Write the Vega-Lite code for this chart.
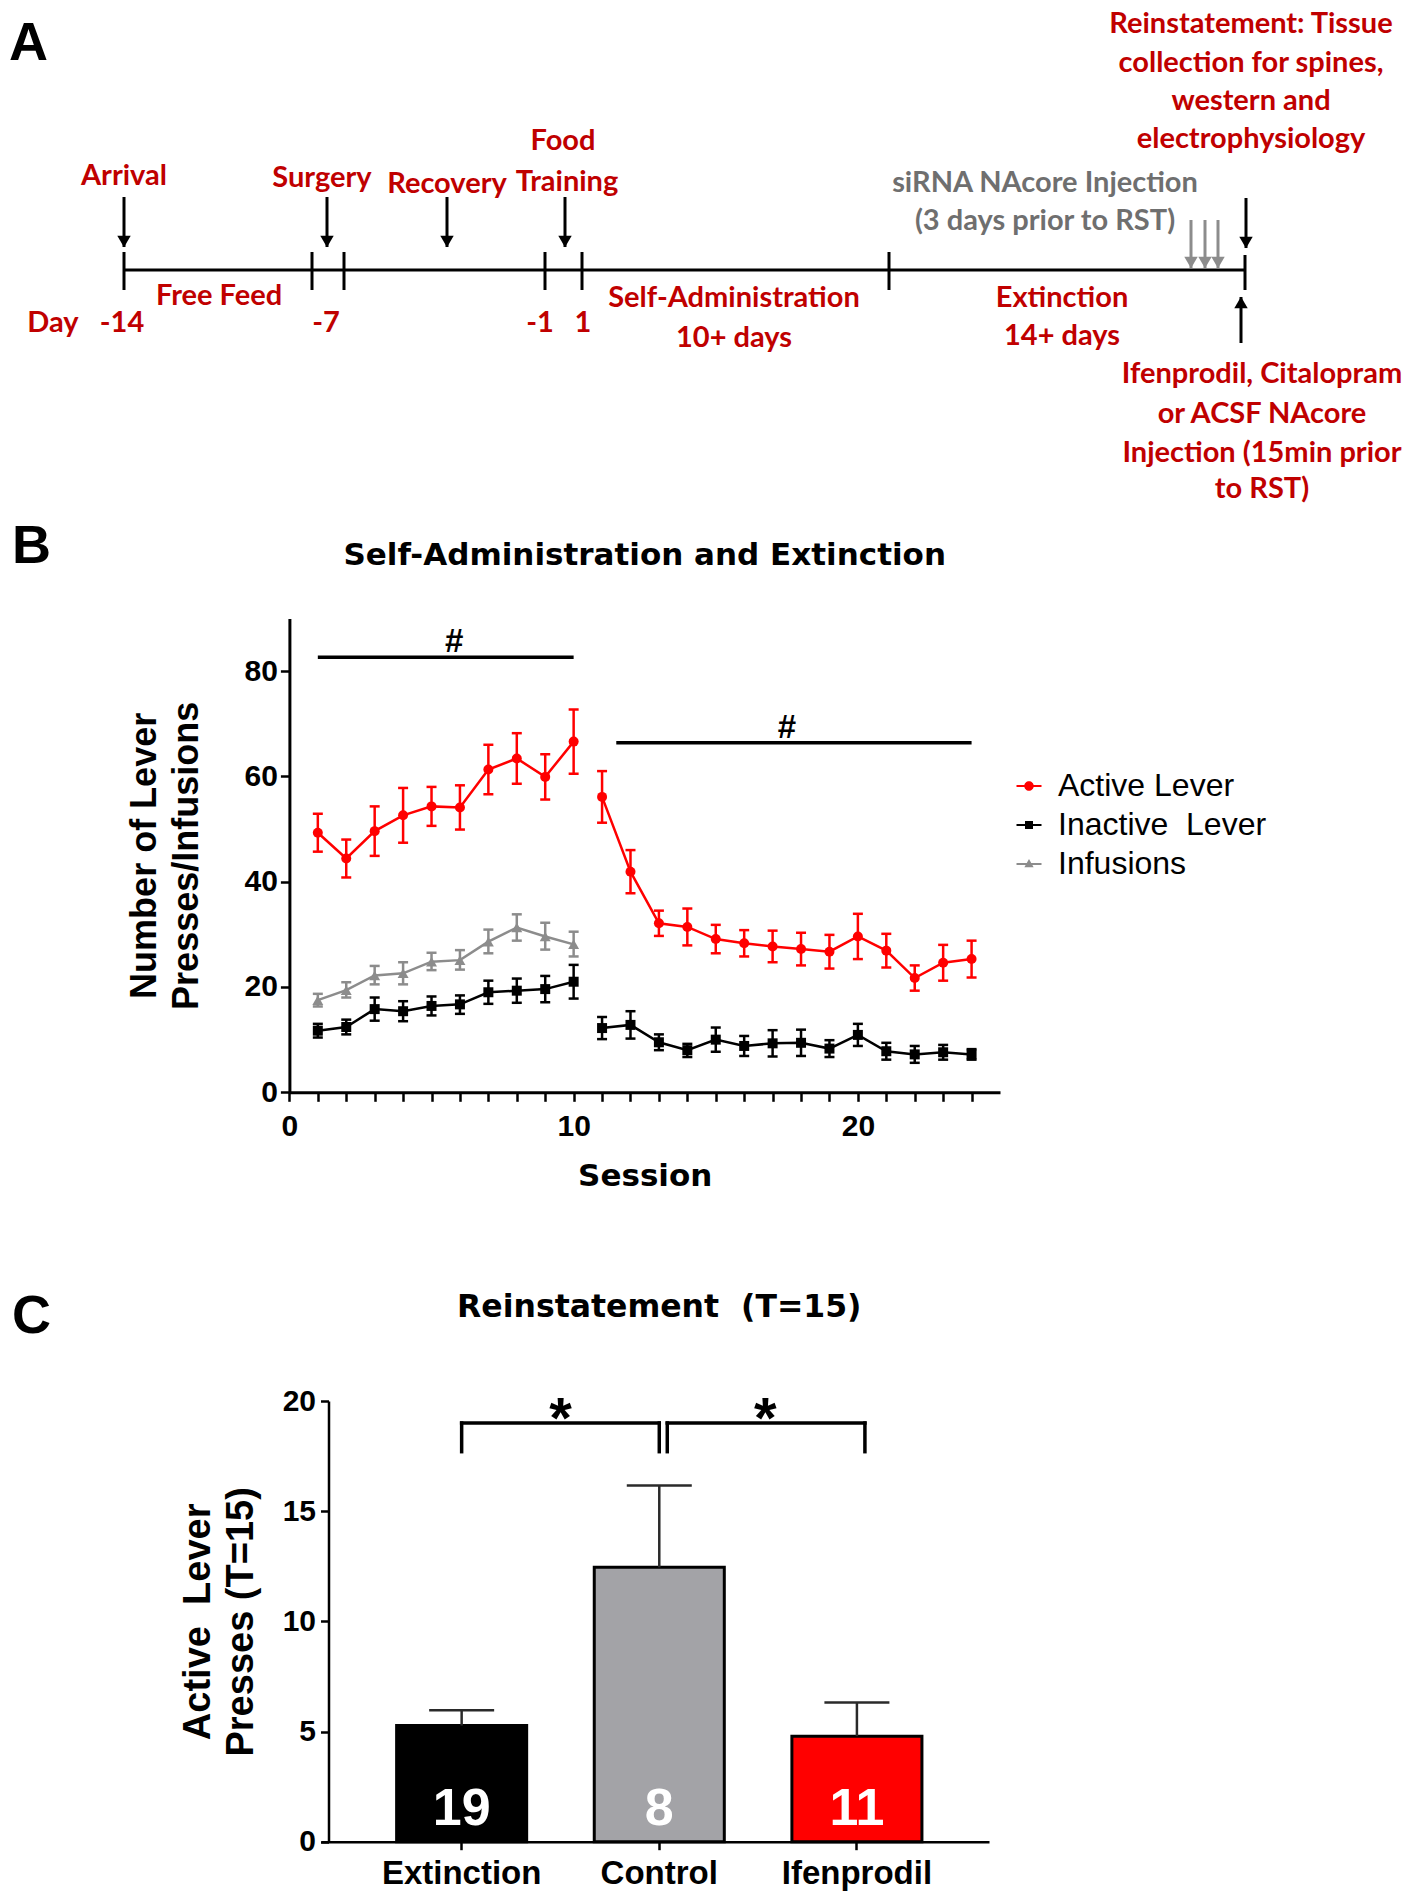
{
  "$schema": "https://vega.github.io/schema/vega-lite/v6.json",
  "width": 1422,
  "height": 1891,
  "autosize": {"type": "none"},
  "padding": 0,
  "background": "white",
  "config": {
    "view": {"stroke": null},
    "axis": {"grid": false, "domainColor": "black", "tickColor": "black", "labelColor": "black", "titleColor": "black", "labelFlush": false, "labelOverlap": false, "labelFont": "Liberation Sans", "titleFont": "Liberation Sans"}
  },
  "datasets": {
    "a_timeline": [{"start": 12.4, "end": 124.5, "level": 27.0}],
    "a_ticks": [
      {"pos": 12.4, "top": 25.2, "bottom": 29.0},
      {"pos": 31.2, "top": 25.2, "bottom": 29.0},
      {"pos": 34.4, "top": 25.2, "bottom": 29.0},
      {"pos": 54.5, "top": 25.2, "bottom": 29.0},
      {"pos": 58.2, "top": 25.2, "bottom": 29.0},
      {"pos": 88.9, "top": 25.2, "bottom": 29.0},
      {"pos": 124.5, "top": 25.5, "bottom": 29.0}
    ],
    "a_arrows": [
      {"pos": 12.4, "tail": 19.7, "head": 24.7, "dir": "down", "kind": "black"},
      {"pos": 32.7, "tail": 19.7, "head": 24.7, "dir": "down", "kind": "black"},
      {"pos": 44.7, "tail": 19.7, "head": 24.7, "dir": "down", "kind": "black"},
      {"pos": 56.5, "tail": 19.7, "head": 24.7, "dir": "down", "kind": "black"},
      {"pos": 124.6, "tail": 19.8, "head": 24.8, "dir": "down", "kind": "black"},
      {"pos": 124.1, "tail": 34.3, "head": 29.7, "dir": "up", "kind": "black"},
      {"pos": 119.1, "tail": 22.0, "head": 26.8, "dir": "down", "kind": "gray"},
      {"pos": 120.5, "tail": 22.0, "head": 26.8, "dir": "down", "kind": "gray"},
      {"pos": 121.8, "tail": 22.0, "head": 26.8, "dir": "down", "kind": "gray"}
    ],
    "a_text": [
      {"label": "A", "pos": 0.9, "level": 6.0, "kind": "letter"},
      {"label": "B", "pos": 1.2, "level": 56.3, "kind": "letter"},
      {"label": "C", "pos": 1.2, "level": 133.3, "kind": "letter"},
      {"label": "Arrival", "pos": 12.4, "level": 18.5, "kind": "red"},
      {"label": "Surgery", "pos": 32.2, "level": 18.7, "kind": "red"},
      {"label": "Recovery", "pos": 44.7, "level": 19.3, "kind": "red"},
      {"label": "Food", "pos": 56.3, "level": 15.0, "kind": "red"},
      {"label": "Training", "pos": 56.7, "level": 19.1, "kind": "red"},
      {"label": "Free Feed", "pos": 21.9, "level": 30.5, "kind": "red"},
      {"label": "Day", "pos": 5.3, "level": 33.2, "kind": "red"},
      {"label": "-14", "pos": 12.2, "level": 33.2, "kind": "red"},
      {"label": "-7", "pos": 32.6, "level": 33.2, "kind": "red"},
      {"label": "-1", "pos": 54.0, "level": 33.2, "kind": "red"},
      {"label": "1", "pos": 58.3, "level": 33.2, "kind": "red"},
      {"label": "Self-Administration", "pos": 73.4, "level": 30.7, "kind": "red"},
      {"label": "10+ days", "pos": 73.4, "level": 34.7, "kind": "red"},
      {"label": "Extinction", "pos": 106.2, "level": 30.7, "kind": "red"},
      {"label": "14+ days", "pos": 106.2, "level": 34.5, "kind": "red"},
      {"label": "Reinstatement: Tissue", "pos": 125.1, "level": 3.3, "kind": "red"},
      {"label": "collection for spines,", "pos": 125.1, "level": 7.2, "kind": "red"},
      {"label": "western and", "pos": 125.1, "level": 11.0, "kind": "red"},
      {"label": "electrophysiology", "pos": 125.1, "level": 14.8, "kind": "red"},
      {"label": "Ifenprodil, Citalopram", "pos": 126.2, "level": 38.3, "kind": "red"},
      {"label": "or ACSF NAcore", "pos": 126.2, "level": 42.3, "kind": "red"},
      {"label": "Injection (15min prior", "pos": 126.2, "level": 46.2, "kind": "red"},
      {"label": "to RST)", "pos": 126.2, "level": 49.8, "kind": "red"},
      {"label": "siRNA NAcore Injection", "pos": 104.5, "level": 19.2, "kind": "gray"},
      {"label": "(3 days prior to RST)", "pos": 104.5, "level": 23.0, "kind": "gray"}
    ],
    "b_sig": [
      {"start": 1, "end": 10, "level": 82.6, "label_x": 5.8, "mark": "#"},
      {"start": 11.5, "end": 24, "level": 66.4, "label_x": 17.5, "mark": "#"}
    ],
    "b_series": [
      {"series": "Active Lever", "session": 1, "phase": "SA", "mean": 49.3, "lo": 45.7, "hi": 52.9},
      {"series": "Active Lever", "session": 2, "phase": "SA", "mean": 44.4, "lo": 40.8, "hi": 48.0},
      {"series": "Active Lever", "session": 3, "phase": "SA", "mean": 49.6, "lo": 44.9, "hi": 54.3},
      {"series": "Active Lever", "session": 4, "phase": "SA", "mean": 52.6, "lo": 47.4, "hi": 57.8},
      {"series": "Active Lever", "session": 5, "phase": "SA", "mean": 54.3, "lo": 50.6, "hi": 58.0},
      {"series": "Active Lever", "session": 6, "phase": "SA", "mean": 54.1, "lo": 49.9, "hi": 58.3},
      {"series": "Active Lever", "session": 7, "phase": "SA", "mean": 61.3, "lo": 56.6, "hi": 66.0},
      {"series": "Active Lever", "session": 8, "phase": "SA", "mean": 63.4, "lo": 58.6, "hi": 68.2},
      {"series": "Active Lever", "session": 9, "phase": "SA", "mean": 59.9, "lo": 55.6, "hi": 64.2},
      {"series": "Active Lever", "session": 10, "phase": "SA", "mean": 66.6, "lo": 60.5, "hi": 72.7},
      {"series": "Active Lever", "session": 11, "phase": "EXT", "mean": 56.1, "lo": 51.2, "hi": 61.0},
      {"series": "Active Lever", "session": 12, "phase": "EXT", "mean": 41.9, "lo": 37.8, "hi": 46.0},
      {"series": "Active Lever", "session": 13, "phase": "EXT", "mean": 32.1, "lo": 29.7, "hi": 34.5},
      {"series": "Active Lever", "session": 14, "phase": "EXT", "mean": 31.4, "lo": 27.9, "hi": 34.9},
      {"series": "Active Lever", "session": 15, "phase": "EXT", "mean": 29.1, "lo": 26.4, "hi": 31.8},
      {"series": "Active Lever", "session": 16, "phase": "EXT", "mean": 28.3, "lo": 25.8, "hi": 30.8},
      {"series": "Active Lever", "session": 17, "phase": "EXT", "mean": 27.7, "lo": 24.7, "hi": 30.7},
      {"series": "Active Lever", "session": 18, "phase": "EXT", "mean": 27.2, "lo": 24.1, "hi": 30.3},
      {"series": "Active Lever", "session": 19, "phase": "EXT", "mean": 26.7, "lo": 23.5, "hi": 29.9},
      {"series": "Active Lever", "session": 20, "phase": "EXT", "mean": 29.6, "lo": 25.3, "hi": 33.9},
      {"series": "Active Lever", "session": 21, "phase": "EXT", "mean": 26.9, "lo": 23.7, "hi": 30.1},
      {"series": "Active Lever", "session": 22, "phase": "EXT", "mean": 21.7, "lo": 19.3, "hi": 24.1},
      {"series": "Active Lever", "session": 23, "phase": "EXT", "mean": 24.6, "lo": 21.2, "hi": 28.0},
      {"series": "Active Lever", "session": 24, "phase": "EXT", "mean": 25.3, "lo": 21.8, "hi": 28.8},
      {"series": "Inactive\u00a0 Lever", "session": 1, "phase": "SA", "mean": 11.7, "lo": 10.4, "hi": 13.0},
      {"series": "Inactive\u00a0 Lever", "session": 2, "phase": "SA", "mean": 12.4, "lo": 11.0, "hi": 13.8},
      {"series": "Inactive\u00a0 Lever", "session": 3, "phase": "SA", "mean": 15.8, "lo": 13.6, "hi": 18.0},
      {"series": "Inactive\u00a0 Lever", "session": 4, "phase": "SA", "mean": 15.4, "lo": 13.5, "hi": 17.3},
      {"series": "Inactive\u00a0 Lever", "session": 5, "phase": "SA", "mean": 16.4, "lo": 14.6, "hi": 18.2},
      {"series": "Inactive\u00a0 Lever", "session": 6, "phase": "SA", "mean": 16.7, "lo": 14.9, "hi": 18.4},
      {"series": "Inactive\u00a0 Lever", "session": 7, "phase": "SA", "mean": 19.0, "lo": 16.8, "hi": 21.2},
      {"series": "Inactive\u00a0 Lever", "session": 8, "phase": "SA", "mean": 19.3, "lo": 17.0, "hi": 21.6},
      {"series": "Inactive\u00a0 Lever", "session": 9, "phase": "SA", "mean": 19.6, "lo": 17.1, "hi": 22.1},
      {"series": "Inactive\u00a0 Lever", "session": 10, "phase": "SA", "mean": 21.0, "lo": 17.8, "hi": 24.2},
      {"series": "Inactive\u00a0 Lever", "session": 11, "phase": "EXT", "mean": 12.2, "lo": 10.1, "hi": 14.3},
      {"series": "Inactive\u00a0 Lever", "session": 12, "phase": "EXT", "mean": 12.8, "lo": 10.2, "hi": 15.4},
      {"series": "Inactive\u00a0 Lever", "session": 13, "phase": "EXT", "mean": 9.5, "lo": 8.0, "hi": 11.0},
      {"series": "Inactive\u00a0 Lever", "session": 14, "phase": "EXT", "mean": 8.0, "lo": 6.7, "hi": 9.2},
      {"series": "Inactive\u00a0 Lever", "session": 15, "phase": "EXT", "mean": 10.0, "lo": 7.7, "hi": 12.3},
      {"series": "Inactive\u00a0 Lever", "session": 16, "phase": "EXT", "mean": 8.8, "lo": 6.9, "hi": 10.7},
      {"series": "Inactive\u00a0 Lever", "session": 17, "phase": "EXT", "mean": 9.3, "lo": 6.8, "hi": 11.8},
      {"series": "Inactive\u00a0 Lever", "session": 18, "phase": "EXT", "mean": 9.4, "lo": 6.9, "hi": 11.9},
      {"series": "Inactive\u00a0 Lever", "session": 19, "phase": "EXT", "mean": 8.3, "lo": 6.7, "hi": 9.9},
      {"series": "Inactive\u00a0 Lever", "session": 20, "phase": "EXT", "mean": 10.9, "lo": 8.8, "hi": 13.0},
      {"series": "Inactive\u00a0 Lever", "session": 21, "phase": "EXT", "mean": 7.8, "lo": 6.2, "hi": 9.4},
      {"series": "Inactive\u00a0 Lever", "session": 22, "phase": "EXT", "mean": 7.2, "lo": 5.6, "hi": 8.8},
      {"series": "Inactive\u00a0 Lever", "session": 23, "phase": "EXT", "mean": 7.6, "lo": 6.2, "hi": 9.0},
      {"series": "Inactive\u00a0 Lever", "session": 24, "phase": "EXT", "mean": 7.2, "lo": 6.2, "hi": 8.2},
      {"series": "Infusions", "session": 1, "phase": "SA", "mean": 17.5, "lo": 16.3, "hi": 18.7},
      {"series": "Infusions", "session": 2, "phase": "SA", "mean": 19.4, "lo": 18.0, "hi": 20.9},
      {"series": "Infusions", "session": 3, "phase": "SA", "mean": 22.2, "lo": 20.5, "hi": 24.0},
      {"series": "Infusions", "session": 4, "phase": "SA", "mean": 22.6, "lo": 20.5, "hi": 24.7},
      {"series": "Infusions", "session": 5, "phase": "SA", "mean": 24.8, "lo": 23.2, "hi": 26.5},
      {"series": "Infusions", "session": 6, "phase": "SA", "mean": 25.1, "lo": 23.3, "hi": 27.0},
      {"series": "Infusions", "session": 7, "phase": "SA", "mean": 28.6, "lo": 26.4, "hi": 30.9},
      {"series": "Infusions", "session": 8, "phase": "SA", "mean": 31.3, "lo": 28.8, "hi": 33.8},
      {"series": "Infusions", "session": 9, "phase": "SA", "mean": 29.6, "lo": 27.1, "hi": 32.2},
      {"series": "Infusions", "session": 10, "phase": "SA", "mean": 28.1, "lo": 25.8, "hi": 30.5}
    ],
    "c_bars": [
      {"group": "Extinction", "mean": 5.27, "upper": 5.97, "n": "19"},
      {"group": "Control", "mean": 12.45, "upper": 16.17, "n": "8"},
      {"group": "Ifenprodil", "mean": 4.79, "upper": 6.32, "n": "11"}
    ],
    "c_brackets": [
      {"pair": "L", "a": "Extinction", "b": "Control", "star": "*"},
      {"pair": "R", "a": "Control", "b": "Ifenprodil", "star": "*"}
    ]
  },
  "layer": [
    {
      "layer": [
        {
          "data": {"name": "a_timeline"},
          "mark": {"type": "rule", "strokeWidth": 3, "color": "black"},
          "encoding": {
            "x": {"field": "start", "type": "quantitative", "scale": {"domain": [0, 142.2], "range": [0, 1422], "nice": false, "zero": false}, "axis": null},
            "x2": {"field": "end"},
            "y": {"field": "level", "type": "quantitative", "scale": {"domain": [0, 189.1], "range": [0, 1891], "nice": false, "zero": false}, "axis": null}
          }
        },
        {
          "data": {"name": "a_ticks"},
          "mark": {"type": "rule", "strokeWidth": 3, "color": "black"},
          "encoding": {
            "x": {"field": "pos", "type": "quantitative"},
            "y": {"field": "top", "type": "quantitative"},
            "y2": {"field": "bottom"}
          }
        },
        {
          "data": {"name": "a_arrows"},
          "mark": {"type": "rule", "strokeWidth": 3},
          "encoding": {
            "x": {"field": "pos", "type": "quantitative"},
            "y": {"field": "tail", "type": "quantitative"},
            "y2": {"field": "head"},
            "color": {"field": "kind", "type": "nominal", "scale": {"domain": ["black", "gray"], "range": ["#000000", "#8c8c8c"]}, "legend": null}
          }
        },
        {
          "data": {"name": "a_arrows"},
          "transform": [{"filter": "datum.dir === 'down'"}],
          "mark": {"type": "point", "shape": "triangle-down", "filled": true, "opacity": 1, "yOffset": -5.5, "size": 180},
          "encoding": {
            "x": {"field": "pos", "type": "quantitative"},
            "y": {"field": "head", "type": "quantitative"},
            "color": {"field": "kind", "type": "nominal", "legend": null}
          }
        },
        {
          "data": {"name": "a_arrows"},
          "transform": [{"filter": "datum.dir === 'up'"}],
          "mark": {"type": "point", "shape": "triangle-up", "filled": true, "opacity": 1, "yOffset": 5.5, "size": 180, "color": "black"},
          "encoding": {
            "x": {"field": "pos", "type": "quantitative"},
            "y": {"field": "head", "type": "quantitative"}
          }
        },
        {
          "data": {"name": "a_text"},
          "transform": [{"filter": "datum.kind === 'red'"}],
          "mark": {"type": "text", "font": "Lato", "fontWeight": "bold", "fontSize": 29, "color": "#c00000", "align": "center", "baseline": "alphabetic"},
          "encoding": {
            "x": {"field": "pos", "type": "quantitative"},
            "y": {"field": "level", "type": "quantitative"},
            "text": {"field": "label"}
          }
        },
        {
          "data": {"name": "a_text"},
          "transform": [{"filter": "datum.kind === 'gray'"}],
          "mark": {"type": "text", "font": "Lato", "fontWeight": "bold", "fontSize": 29, "color": "#6f6f6f", "align": "center", "baseline": "alphabetic"},
          "encoding": {
            "x": {"field": "pos", "type": "quantitative"},
            "y": {"field": "level", "type": "quantitative"},
            "text": {"field": "label"}
          }
        },
        {
          "data": {"name": "a_text"},
          "transform": [{"filter": "datum.kind === 'letter'"}],
          "mark": {"type": "text", "font": "Liberation Sans", "fontWeight": "bold", "fontSize": 54, "color": "black", "align": "left", "baseline": "alphabetic"},
          "encoding": {
            "x": {"field": "pos", "type": "quantitative"},
            "y": {"field": "level", "type": "quantitative"},
            "text": {"field": "label"}
          }
        }
      ]
    },
    {
      "layer": [
        {
          "data": {"name": "b_sig"},
          "mark": {"type": "rule", "strokeWidth": 3.5, "color": "black"},
          "encoding": {
            "x": {
              "field": "start", "type": "quantitative",
              "scale": {"domain": [0, 25], "range": [289.4, 1000], "nice": false, "zero": false},
              "axis": {"orient": "bottom", "offset": -798.7, "values": [0,1,2,3,4,5,6,7,8,9,10,11,12,13,14,15,16,17,18,19,20,21,22,23,24], "format": "d", "labelExpr": "datum.value % 10 === 0 ? datum.label : ''", "tickSize": 9, "tickWidth": 2.5, "domainWidth": 3, "labelFontSize": 30, "labelFontWeight": "bold", "labelPadding": 10, "title": "Session", "titleFont": "DejaVu Sans", "titleFontSize": 31, "titleFontWeight": "bold", "titlePadding": 20}
            },
            "x2": {"field": "end"},
            "y": {
              "field": "level", "type": "quantitative",
              "scale": {"domain": [0, 90], "range": [1092.3, 618.4], "nice": false, "zero": true},
              "axis": {"orient": "left", "offset": -289.4, "values": [0, 20, 40, 60, 80], "format": "d", "tickSize": 9, "tickWidth": 2.5, "domainWidth": 3, "labelFontSize": 30, "labelFontWeight": "bold", "labelPadding": 3, "title": ["Number of Lever", "Presses/Infusions"], "titleFontSize": 36, "titleFontWeight": "bold", "titleLineHeight": 42, "titlePadding": 39}
            }
          }
        },
        {
          "data": {"name": "b_sig"},
          "mark": {"type": "text", "font": "Liberation Sans", "fontWeight": "bold", "fontSize": 33, "dy": -5, "baseline": "alphabetic", "align": "center", "color": "black"},
          "encoding": {
            "x": {"field": "label_x", "type": "quantitative"},
            "y": {"field": "level", "type": "quantitative"},
            "text": {"field": "mark"}
          }
        },
        {
          "data": {"name": "b_series"},
          "mark": {"type": "rule", "strokeWidth": 2.5},
          "encoding": {
            "x": {"field": "session", "type": "quantitative"},
            "y": {"field": "lo", "type": "quantitative"},
            "y2": {"field": "hi"},
            "color": {
              "field": "series", "type": "nominal",
              "scale": {"domain": ["Active Lever", "Inactive\u00a0 Lever", "Infusions"], "range": ["#ff0000", "#000000", "#8c8c8c"]},
              "legend": {"orient": "none", "legendX": 1013, "legendY": 770, "title": null, "padding": 0, "labelFont": "Liberation Sans", "labelFontSize": 32, "labelFontWeight": "normal", "labelColor": "black", "labelOffset": 13, "labelLimit": 400, "rowPadding": 7, "symbolSize": 625, "symbolStrokeWidth": 0, "symbolOpacity": 1}
            }
          }
        },
        {
          "data": {"name": "b_series"},
          "mark": {"type": "tick", "orient": "horizontal", "size": 10, "thickness": 2.5, "opacity": 1},
          "encoding": {
            "x": {"field": "session", "type": "quantitative"},
            "y": {"field": "lo", "type": "quantitative"},
            "color": {"field": "series", "type": "nominal"}
          }
        },
        {
          "data": {"name": "b_series"},
          "mark": {"type": "tick", "orient": "horizontal", "size": 10, "thickness": 2.5, "opacity": 1},
          "encoding": {
            "x": {"field": "session", "type": "quantitative"},
            "y": {"field": "hi", "type": "quantitative"},
            "color": {"field": "series", "type": "nominal"}
          }
        },
        {
          "data": {"name": "b_series"},
          "mark": {"type": "line", "strokeWidth": 2.5},
          "encoding": {
            "x": {"field": "session", "type": "quantitative"},
            "y": {"field": "mean", "type": "quantitative"},
            "detail": {"field": "phase"},
            "color": {"field": "series", "type": "nominal"}
          }
        },
        {
          "data": {"name": "b_series"},
          "transform": [{"filter": "datum.series === 'Active Lever'"}],
          "mark": {"type": "point", "shape": "circle", "filled": true, "opacity": 1, "size": 100},
          "encoding": {
            "x": {"field": "session", "type": "quantitative"},
            "y": {"field": "mean", "type": "quantitative"},
            "color": {"field": "series", "type": "nominal"}
          }
        },
        {
          "data": {"name": "b_series"},
          "transform": [{"filter": "datum.series !== 'Active Lever' && datum.series !== 'Infusions'"}],
          "mark": {"type": "point", "shape": "square", "filled": true, "opacity": 1, "size": 100},
          "encoding": {
            "x": {"field": "session", "type": "quantitative"},
            "y": {"field": "mean", "type": "quantitative"},
            "color": {"field": "series", "type": "nominal"}
          }
        },
        {
          "data": {"name": "b_series"},
          "transform": [{"filter": "datum.series === 'Infusions'"}],
          "mark": {"type": "point", "shape": "triangle-up", "filled": true, "opacity": 1, "size": 120},
          "encoding": {
            "x": {"field": "session", "type": "quantitative"},
            "y": {"field": "mean", "type": "quantitative"},
            "color": {"field": "series", "type": "nominal"}
          }
        },
        {
          "data": {"name": "b_series"},
          "transform": [{"filter": "datum.session === 1"}],
          "mark": {"type": "point", "filled": true, "opacity": 0},
          "encoding": {
            "x": {"field": "session", "type": "quantitative"},
            "y": {"field": "mean", "type": "quantitative"},
            "color": {"field": "series", "type": "nominal"},
            "shape": {
              "field": "series", "type": "nominal",
              "scale": {"domain": ["Active Lever", "Inactive\u00a0 Lever", "Infusions"], "range": [
                "M-1,-0.08H1V0.08H-1ZM0.38,0A0.38,0.38,0,1,1,-0.38,0A0.38,0.38,0,1,1,0.38,0Z",
                "M-1,-0.08H1V0.08H-1ZM-0.32,-0.32H0.32V0.32H-0.32Z",
                "M-1,-0.08H1V0.08H-1ZM0,-0.4L0.37,0.26L-0.37,0.26Z"
              ]},
              "legend": {"orient": "none", "legendX": 1013, "legendY": 770, "title": null, "padding": 0, "labelFont": "Liberation Sans", "labelFontSize": 32, "labelFontWeight": "normal", "labelColor": "black", "labelOffset": 13, "labelLimit": 400, "rowPadding": 7, "symbolSize": 625, "symbolStrokeWidth": 0, "symbolOpacity": 1}
            }
          }
        },
        {
          "data": {"values": [{"title": "Self-Administration and Extinction"}]},
          "mark": {"type": "text", "font": "DejaVu Sans", "fontWeight": "bold", "fontSize": 31, "align": "center", "baseline": "alphabetic", "color": "black"},
          "encoding": {
            "x": {"datum": 12.5, "type": "quantitative"},
            "y": {"datum": 100.1, "type": "quantitative"},
            "text": {"field": "title"}
          }
        }
      ]
    },
    {
      "layer": [
        {
          "data": {"name": "c_bars"},
          "mark": {"type": "bar", "stroke": "black", "strokeWidth": 3},
          "encoding": {
            "x": {
              "field": "group", "type": "nominal", "sort": null,
              "scale": {"domain": ["Extinction", "Control", "Ifenprodil"], "range": [321, 989], "paddingInner": 0.342, "paddingOuter": 0.361, "align": 0.53},
              "axis": {"orient": "bottom", "offset": -49.3, "title": null, "labelAngle": 0, "tickSize": 8, "tickWidth": 2.5, "domainWidth": 2.5, "labelFontSize": 33, "labelFontWeight": "bold", "labelPadding": 8}
            },
            "y": {
              "field": "mean", "type": "quantitative",
              "scale": {"domain": [0, 20], "range": [1841.7, 1401], "nice": false, "zero": true},
              "axis": {"orient": "left", "offset": -328.5, "values": [0, 5, 10, 15, 20], "format": "d", "tickSize": 8, "tickWidth": 2.5, "domainWidth": 2.5, "labelFontSize": 30, "labelFontWeight": "bold", "labelPadding": 5, "title": ["Active\u00a0\u00a0Lever", "Presses (T=15)"], "titleFontSize": 38, "titleFontWeight": "bold", "titleLineHeight": 43, "titlePadding": 22}
            },
            "color": {"field": "group", "type": "nominal", "scale": {"domain": ["Extinction", "Control", "Ifenprodil"], "range": ["#000000", "#a3a3a7", "#ff0000"]}, "legend": null}
          }
        },
        {
          "data": {"name": "c_bars"},
          "mark": {"type": "rule", "strokeWidth": 2.5, "color": "#2a2a2a"},
          "encoding": {
            "x": {"field": "group", "type": "nominal"},
            "y": {"field": "mean", "type": "quantitative"},
            "y2": {"field": "upper"}
          }
        },
        {
          "data": {"name": "c_bars"},
          "mark": {"type": "tick", "orient": "horizontal", "size": 65, "thickness": 2.5, "color": "#2a2a2a", "opacity": 1},
          "encoding": {
            "x": {"field": "group", "type": "nominal"},
            "y": {"field": "upper", "type": "quantitative"}
          }
        },
        {
          "data": {"name": "c_bars"},
          "mark": {"type": "text", "font": "Liberation Sans", "fontWeight": "bold", "fontSize": 52, "color": "white", "align": "center", "baseline": "alphabetic"},
          "encoding": {
            "x": {"field": "group", "type": "nominal"},
            "y": {"datum": 0.76, "type": "quantitative"},
            "text": {"field": "n"}
          }
        },
        {
          "data": {"name": "c_brackets"},
          "transform": [{"filter": "datum.pair === 'L'"}],
          "mark": {"type": "rule", "strokeWidth": 3.5, "color": "black", "strokeCap": "square"},
          "encoding": {
            "x": {"field": "a", "type": "nominal"},
            "x2": {"field": "b"},
            "y": {"datum": 19.0, "type": "quantitative"}
          }
        },
        {
          "data": {"name": "c_brackets"},
          "transform": [{"filter": "datum.pair === 'L'"}],
          "mark": {"type": "rule", "strokeWidth": 3.5, "color": "black", "strokeCap": "square"},
          "encoding": {
            "x": {"field": "a", "type": "nominal"},
            "y": {"datum": 17.7, "type": "quantitative"},
            "y2": {"datum": 19.0}
          }
        },
        {
          "data": {"name": "c_brackets"},
          "transform": [{"filter": "datum.pair === 'L'"}],
          "mark": {"type": "rule", "strokeWidth": 3.5, "color": "black", "strokeCap": "square"},
          "encoding": {
            "x": {"field": "b", "type": "nominal"},
            "y": {"datum": 17.7, "type": "quantitative"},
            "y2": {"datum": 19.0}
          }
        },
        {
          "data": {"name": "c_brackets"},
          "transform": [{"filter": "datum.pair === 'L'"}],
          "mark": {"type": "text", "font": "Liberation Sans", "fontWeight": "bold", "fontSize": 58, "color": "black", "align": "center", "baseline": "alphabetic", "xOffset": 99},
          "encoding": {
            "x": {"field": "a", "type": "nominal"},
            "y": {"datum": 18.33, "type": "quantitative"},
            "text": {"field": "star"}
          }
        },
        {
          "data": {"name": "c_brackets"},
          "transform": [{"filter": "datum.pair === 'R'"}],
          "mark": {"type": "rule", "strokeWidth": 3.5, "color": "black", "strokeCap": "square", "xOffset": 8, "x2Offset": 8},
          "encoding": {
            "x": {"field": "a", "type": "nominal"},
            "x2": {"field": "b"},
            "y": {"datum": 19.0, "type": "quantitative"}
          }
        },
        {
          "data": {"name": "c_brackets"},
          "transform": [{"filter": "datum.pair === 'R'"}],
          "mark": {"type": "rule", "strokeWidth": 3.5, "color": "black", "strokeCap": "square", "xOffset": 8},
          "encoding": {
            "x": {"field": "a", "type": "nominal"},
            "y": {"datum": 17.7, "type": "quantitative"},
            "y2": {"datum": 19.0}
          }
        },
        {
          "data": {"name": "c_brackets"},
          "transform": [{"filter": "datum.pair === 'R'"}],
          "mark": {"type": "rule", "strokeWidth": 3.5, "color": "black", "strokeCap": "square", "xOffset": 8},
          "encoding": {
            "x": {"field": "b", "type": "nominal"},
            "y": {"datum": 17.7, "type": "quantitative"},
            "y2": {"datum": 19.0}
          }
        },
        {
          "data": {"name": "c_brackets"},
          "transform": [{"filter": "datum.pair === 'R'"}],
          "mark": {"type": "text", "font": "Liberation Sans", "fontWeight": "bold", "fontSize": 58, "color": "black", "align": "center", "baseline": "alphabetic", "xOffset": 106},
          "encoding": {
            "x": {"field": "a", "type": "nominal"},
            "y": {"datum": 18.33, "type": "quantitative"},
            "text": {"field": "star"}
          }
        },
        {
          "data": {"values": [{"title": "Reinstatement\u00a0 (T=15)"}]},
          "mark": {"type": "text", "font": "DejaVu Sans", "fontWeight": "bold", "fontSize": 31.5, "align": "center", "baseline": "alphabetic", "color": "black"},
          "encoding": {
            "x": {"datum": "Control", "type": "nominal"},
            "y": {"datum": 23.8, "type": "quantitative"},
            "text": {"field": "title"}
          }
        }
      ]
    }
  ],
  "resolve": {
    "scale": {"x": "independent", "y": "independent", "color": "independent", "shape": "independent"},
    "axis": {"x": "independent", "y": "independent"}
  }
}
